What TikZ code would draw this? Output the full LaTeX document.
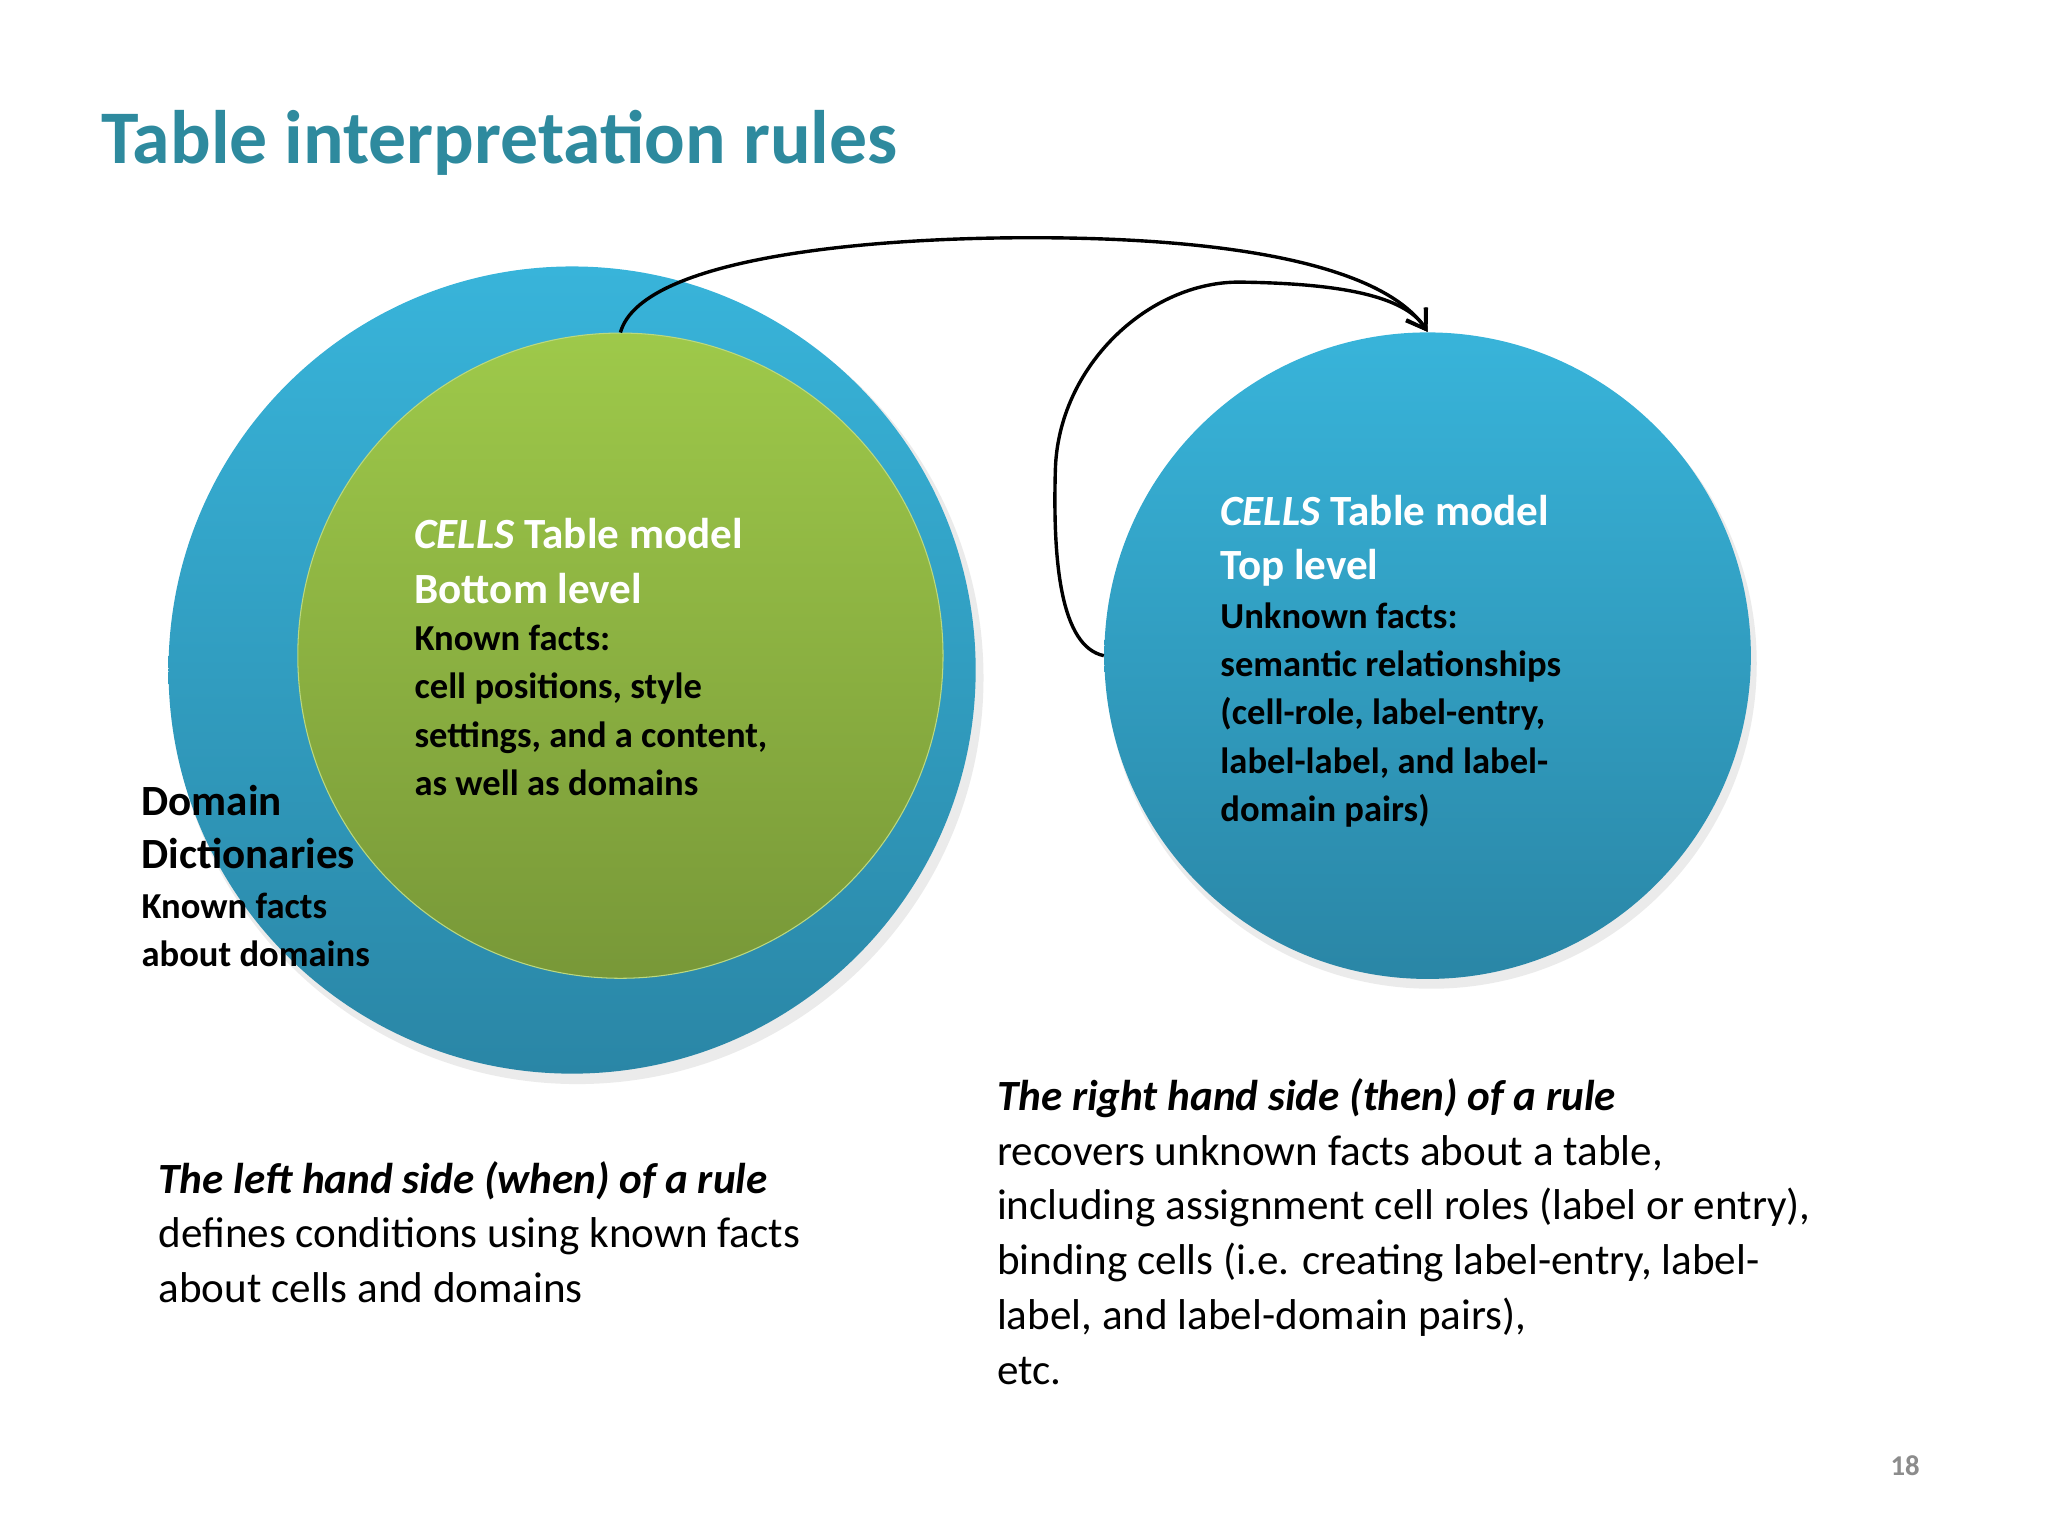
\documentclass[tikz,border=0pt]{standalone}
\usepackage{fontspec}
\setmainfont{Carlito}
\usetikzlibrary{arrows.meta}
\definecolor{ttl}{HTML}{2E8A9E}
\definecolor{bluT}{HTML}{38B4DA}
\definecolor{bluB}{HTML}{2A86A6}
\definecolor{grnT}{HTML}{9EC94A}
\definecolor{grnB}{HTML}{789838}
\tikzset{
  big/.style={font=\fontsize{16.5}{20}\selectfont\bfseries,anchor=base west,inner sep=0},
  sm/.style={font=\fontsize{14}{17}\selectfont\bfseries,anchor=base west,inner sep=0},
  body/.style={font=\fontsize{16.5}{20}\selectfont,anchor=base west,inner sep=0},
  bcirc/.style={circle,inner sep=0,top color=bluT,bottom color=bluB,draw=none},
  arr/.style={line width=1.3pt,-{Straight Barb[length=7pt,width=9pt]}}
}
\begin{document}
\begin{tikzpicture}[x=0.5pt,y=-0.5pt]
\useasboundingbox (0,0) rectangle (1568,1176);
\node[font=\fontsize{29}{34}\selectfont\bfseries,text=ttl,anchor=base west,inner sep=0] (title) at (77,125) {Table interpretation rules};
% shadows
\fill[black!8] (442,519) circle (311);
\fill[black!8] (1096,508) circle (249);
\node[bcirc,minimum size=309pt] (outer) at (438,513) {};
\node[circle,inner sep=0,top color=grnT,bottom color=grnB,draw=grnT!70!white,minimum size=247pt] (green) at (475,502) {};
\node[bcirc,minimum size=247.5pt] (right) at (1093,502) {};
% arrows
\draw[arr] (green.north) .. controls (490,200) and (650,182) .. (790,182) .. controls (950,182) and (1060,205) .. (right.north);
\draw[arr] (right.west) .. controls (812,495) and (806,430) .. (808,360) .. controls (810,280) and (880,215) .. (950,216) .. controls (1020,217) and (1075,225) .. (right.north);
% green text
\node[big,white] (g1) at (317,420) {\textit{CELLS} Table model};
\node[big,white] (g2) at (317,462) {Bottom level};
\node[sm] (g3) at (317,498) {Known facts:};
\node[sm] (g4) at (317,535) {cell positions, style};
\node[sm] (g5) at (317,572) {settings, and a content,};
\node[sm] (g6) at (317,609) {as well as domains};
% right text
\node[big,white] (r1) at (934,402) {\textit{CELLS} Table model};
\node[big,white] (r2) at (934,444) {Top level};
\node[sm] (r3) at (934,481) {Unknown facts:};
\node[sm] (r4) at (934,518) {semantic relationships};
\node[sm] (r5) at (934,555) {(cell-role, label-entry,};
\node[sm] (r6) at (934,592) {label-label, and label-};
\node[sm] (r7) at (934,629) {domain pairs)};
% domain
\node[big] (d1) at (108,624) {Domain};
\node[big] (d2) at (108,665) {Dictionaries};
\node[sm] (d3) at (108,703) {Known facts};
\node[sm] (d4) at (108,740) {about domains};
% left rule
\node[body] (l1) at (121,914) {\textbf{\textit{The left hand side (when) of a rule}}};
\node[body] (l2) at (121,955) {defines conditions using known facts};
\node[body] (l3) at (121,997) {about cells and domains};
% right rule
\node[body] (h1) at (763,850) {\textbf{\textit{The right hand side (then) of a rule}}};
\node[body] (h2) at (763,892) {recovers unknown facts about a table,};
\node[body] (h3) at (763,934) {including assignment cell roles (label or entry),};
\node[body] (h4) at (763,976) {binding cells (i.e. creating label-entry, label-};
\node[body] (h5) at (763,1018) {label, and label-domain pairs),};
\node[body] (h6) at (763,1060) {etc.};
\node[font=\fontsize{11}{13}\selectfont\bfseries,text=black!45,anchor=base west,inner sep=0] (pg) at (1447,1130) {18};
\end{tikzpicture}
\end{document}
